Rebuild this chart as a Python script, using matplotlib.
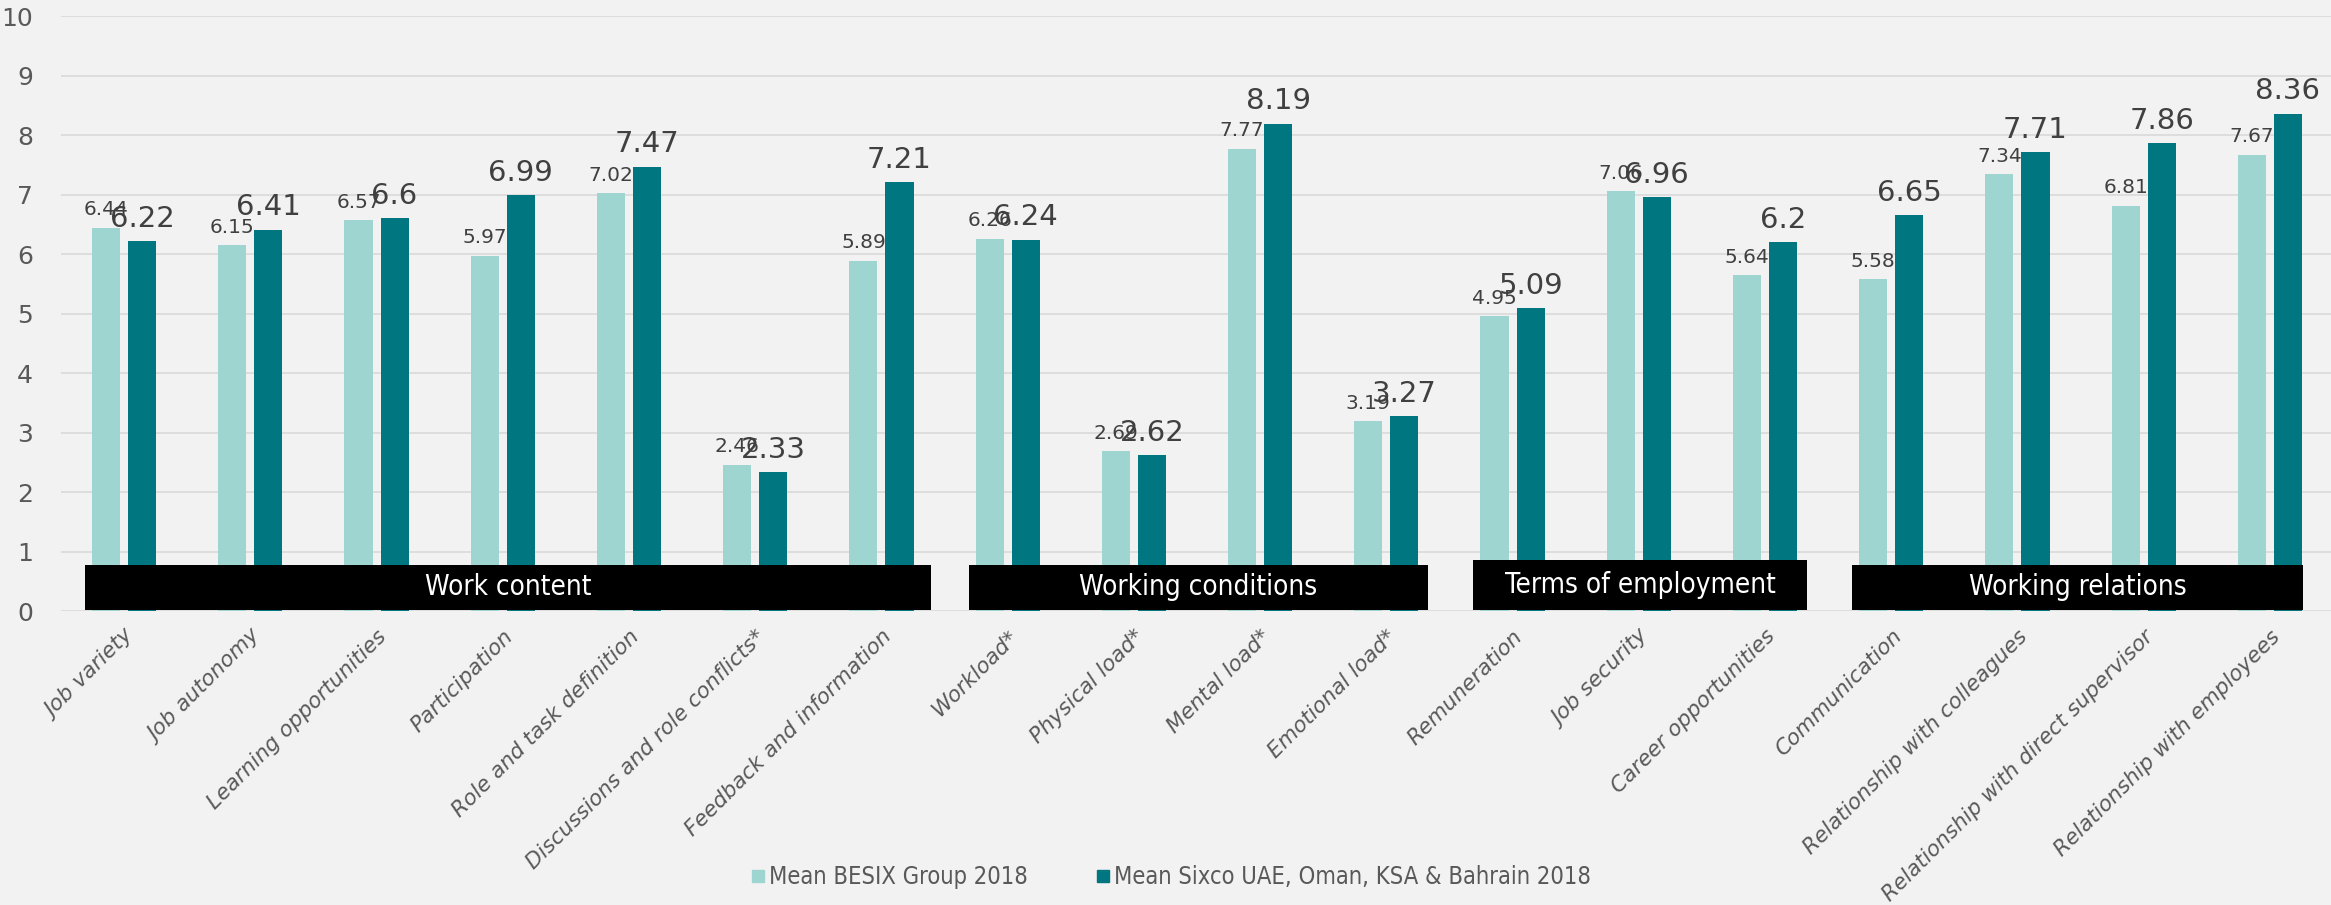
import matplotlib
matplotlib.use("Agg")
import matplotlib.pyplot as plt
from matplotlib import font_manager
from matplotlib.patches import Rectangle
from matplotlib.lines import Line2D
import numpy as np

categories = [
    "Job variety", "Job autonomy", "Learning opportunities", "Participation",
    "Role and task definition", "Discussions and role conflicts*",
    "Feedback and information", "Workload*", "Physical load*", "Mental load*",
    "Emotional load*", "Remuneration", "Job security", "Career opportunities",
    "Communication", "Relationship with colleagues",
    "Relationship with direct supervisor", "Relationship with employees",
]
besix_2018 = [6.44, 6.15, 6.57, 5.97, 7.02, 2.46, 5.89, 6.26, 2.69, 7.77,
              3.19, 4.95, 7.06, 5.64, 5.58, 7.34, 6.81, 7.67]
sixco_2018 = [6.22, 6.41, 6.6, 6.99, 7.47, 2.33, 7.21, 6.24, 2.62, 8.19,
              3.27, 5.09, 6.96, 6.2, 6.65, 7.71, 7.86, 8.36]
series_names = ["Mean BESIX Group 2018", "Mean Sixco UAE, Oman, KSA & Bahrain 2018"]

# theme groups: (label, first category, last category)
groups = [
    ("Work content", 0, 6),
    ("Working conditions", 7, 10),
    ("Terms of employment", 11, 13),
    ("Working relations", 14, 17),
]

LIGHT = "#9fd5d1"
DARK = "#007681"
BG = "#f2f2f2"
GRID = "#d9d9d9"
TICK = "#595959"
LABEL = "#404040"

# narrow face for legend and group banners, if one is installed
def pick_narrow():
    for f in font_manager.fontManager.ttflist:
        if f.name == "DejaVu Sans" and "Condensed" in f.fname:
            return dict(family="DejaVu Sans", stretch="condensed")
    names = {f.name for f in font_manager.fontManager.ttflist}
    if "Liberation Sans Narrow" in names:
        return dict(family="Liberation Sans Narrow")
    return dict(family="DejaVu Sans")

NARROW = pick_narrow()

plt.rcParams["font.family"] = ["DejaVu Sans"]

W, H = 2331, 905
fig = plt.figure(figsize=(W / 100, H / 100), dpi=100, facecolor=BG)
ax = fig.add_axes([61 / W, (H - 611) / H, 2272 / W, 595 / H])
ax.set_facecolor(BG)

x = np.arange(len(categories))
bw = 0.222
off = 0.143
ax.bar(x - off, besix_2018, width=bw, color=LIGHT, zorder=2)
ax.bar(x + off, sixco_2018, width=bw, color=DARK, zorder=2)

for xi, v in zip(x, besix_2018):
    ax.annotate(f"{v:g}", (xi - off, v), xytext=(0, 6), textcoords="offset points",
                ha="center", va="bottom", fontsize=14.5, color=LABEL, zorder=4)
for xi, v in zip(x, sixco_2018):
    ax.annotate(f"{v:g}", (xi + off, v), xytext=(0, 6), textcoords="offset points",
                ha="center", va="bottom", fontsize=21, color=LABEL, zorder=5)

ax.set_xlim(-0.5, len(categories) - 0.5)
ax.set_ylim(0, 10)
ax.set_yticks(range(0, 11))
ax.yaxis.grid(True, color=GRID, linewidth=1.2, zorder=0)
ax.set_axisbelow(True)
for s in ax.spines.values():
    s.set_visible(False)
ax.tick_params(axis="both", length=0, colors=TICK)
ax.tick_params(axis="y", labelsize=18, pad=20)
ax.set_xticks(x)
ax.set_xticklabels(categories, rotation=45, ha="right", rotation_mode="anchor",
                   fontsize=15.5, style="italic", color=TICK)
ax.tick_params(axis="x", pad=11)

# group banners: (left, right, top) in data coordinates
banner_spans = [(-0.31, 6.39, 0.77), (6.69, 10.33, 0.77), (10.69, 13.33, 0.85), (13.69, 17.26, 0.77)]
for (name, a, b), (x0, x1, top) in zip(groups, banner_spans):
    ax.add_patch(Rectangle((x0, 0.02), x1 - x0, top - 0.02, facecolor="black",
                           edgecolor="none", zorder=3))
    ax.text((x0 + x1) / 2, (top + 0.02) / 2, name, ha="center", va="center",
            color="white", fontsize=20, zorder=6, **NARROW)

handles = [Line2D([], [], marker="s", linestyle="none", markersize=8,
                  markerfacecolor=c, markeredgecolor=c) for c in (LIGHT, DARK)]
leg = fig.legend(handles, series_names, loc="center", bbox_to_anchor=(1170 / W, 1 - 877 / H),
                 ncol=2, frameon=False, handletextpad=0.05, columnspacing=2.8,
                 handlelength=0.8, prop=dict(size=17, **NARROW))
for t in leg.get_texts():
    t.set_color(TICK)

fig.savefig("out.png", dpi=100, facecolor=BG)
